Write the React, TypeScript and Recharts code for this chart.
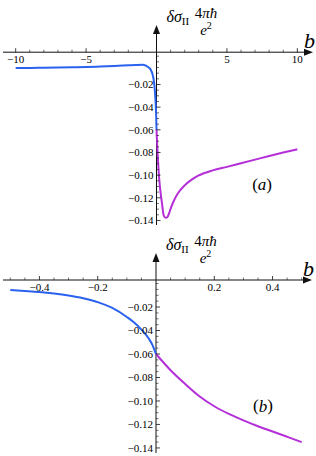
import { LineChart, Line, XAxis, YAxis, ReferenceLine, ReferenceDot } from 'recharts';

const FONT = '"Liberation Serif", "Times New Roman", serif';
const BLUE = '#2a62ef';
const PURPLE = '#b42fd8';
const AXIS = '#111';

// panel (a): b from -10 to 10
const aBlueB = [-10, -9, -8, -7, -6, -5, -4, -3, -2, -1.5, -1, -0.75, -0.5, -0.4, -0.3, -0.2, -0.15, -0.1, -0.05, -0.025, 0];
const aBlueV = [-0.0055, -0.0054, -0.0052, -0.005, -0.0048, -0.0046, -0.0042, -0.0037, -0.0031, -0.0028, -0.0026, -0.0034, -0.0055, -0.0072, -0.0102, -0.0158, -0.0208, -0.0285, -0.0392, -0.0468, -0.06];
const aPurpleB = [0, 0.05, 0.1, 0.2, 0.3, 0.4, 0.5, 0.6, 0.7, 0.8, 0.9, 1, 1.2, 1.5, 2, 2.5, 3, 4, 5, 6, 7, 8, 9, 10];
const aPurpleV = [-0.06, -0.0738, -0.0855, -0.1045, -0.1165, -0.1258, -0.135, -0.1372, -0.1375, -0.1365, -0.1335, -0.1298, -0.1235, -0.1165, -0.109, -0.104, -0.1003, -0.0958, -0.0927, -0.0895, -0.0863, -0.0831, -0.0801, -0.0772];

const aXMajor = [-10, -5, 5, 10];
const aXLabels = ['−10', '−5', '5', '10'];
const aXMinor = [-9, -8, -7, -6, -4, -3, -2, -1, 1, 2, 3, 4, 6, 7, 8, 9];
const aYMajor = [-0.02, -0.04, -0.06, -0.08, -0.1, -0.12, -0.14];
const aYLabels = ['−0.02', '−0.04', '−0.06', '−0.08', '−0.10', '−0.12', '−0.14'];
const aYMinor = [-0.135, -0.13, -0.125, -0.115, -0.11, -0.105, -0.095, -0.09, -0.085, -0.075, -0.07, -0.065, -0.055, -0.05, -0.045, -0.035, -0.03, -0.025, -0.015, -0.01, -0.005, 0, 0.005];

// panel (b): b from -0.5 to 0.5
const bBlueB = [-0.5, -0.45, -0.4, -0.35, -0.3, -0.25, -0.2, -0.15, -0.1, -0.075, -0.05, -0.025, -0.0125, 0];
const bBlueV = [-0.0055, -0.0063, -0.0072, -0.0085, -0.0102, -0.0125, -0.0158, -0.0208, -0.0285, -0.0332, -0.0392, -0.0468, -0.0522, -0.06];
const bPurpleB = [0, 0.05, 0.1, 0.15, 0.2, 0.25, 0.3, 0.35, 0.4, 0.45, 0.5];
const bPurpleV = [-0.06, -0.0738, -0.0855, -0.0962, -0.1045, -0.111, -0.1165, -0.1215, -0.126, -0.1305, -0.135];

const bXMajor = [-0.4, -0.2, 0.2, 0.4];
const bXLabels = ['−0.4', '−0.2', '0.2', '0.4'];
const bXMinor = [-0.5, -0.45, -0.35, -0.3, -0.25, -0.15, -0.1, -0.05, 0.05, 0.1, 0.15, 0.25, 0.3, 0.35, 0.45, 0.5];
const bYMajor = [-0.02, -0.04, -0.06, -0.08, -0.1, -0.12, -0.14];
const bYLabels = ['−0.02', '−0.04', '−0.06', '−0.08', '−0.10', '−0.12', '−0.14'];
const bYMinor = [-0.135, -0.13, -0.125, -0.115, -0.11, -0.105, -0.095, -0.09, -0.085, -0.075, -0.07, -0.065, -0.055, -0.05, -0.045, -0.035, -0.03, -0.025, -0.015, -0.01, -0.005, 0];

const pts = (bs: number[], vs: number[]) => bs.map((b, i) => ({ b, v: vs[i] }));

const xAxisShape = (p: any) => {
  const y = p.y1;
  const left = Math.min(p.x1, p.x2);
  const tip = Math.max(p.x1, p.x2) + 3;
  return (
    <g>
      <line x1={left} y1={y} x2={tip - 6} y2={y} stroke={AXIS} strokeWidth={1} />
      <polygon points={`${tip},${y} ${tip - 9},${y - 3.5} ${tip - 9},${y + 3.5}`} fill={AXIS} />
      <text x={tip - 9} y={y - 4} fontFamily={FONT} fontStyle="italic" fontSize={22} fill="#000">b</text>
    </g>
  );
};

const yAxisShape = (p: any) => {
  const x = p.x1;
  const top = Math.min(p.y1, p.y2);
  const bottom = Math.max(p.y1, p.y2);
  const fx = x + 49.5;
  return (
    <g>
      <line x1={x} y1={bottom} x2={x} y2={top + 6} stroke={AXIS} strokeWidth={1} />
      <polygon points={`${x},${top} ${x - 3.5},${top + 9} ${x + 3.5},${top + 9}`} fill={AXIS} />
      <text x={x + 10} y={top - 3} fontFamily={FONT} fontSize={16} fill="#000">
        <tspan fontStyle="italic">δσ</tspan>
        <tspan fontSize={11} dy={3}>II</tspan>
      </text>
      <text x={fx} y={top - 7} fontFamily={FONT} fontSize={15} textAnchor="middle" fill="#000">
        4<tspan fontStyle="italic">πħ</tspan>
      </text>
      <text x={fx} y={top + 9.5} fontFamily={FONT} fontSize={15} textAnchor="middle" fill="#000">
        <tspan fontStyle="italic">e</tspan>
        <tspan fontSize={10} dy={-6}>2</tspan>
      </text>
    </g>
  );
};

const xMajorTick = (label: string) => (p: any) => (
  <g>
    <line x1={p.cx} y1={p.cy} x2={p.cx} y2={p.cy - 4} stroke={AXIS} strokeWidth={0.8} />
    <text x={p.cx} y={p.cy + 11} fontFamily={FONT} fontSize={11} textAnchor="middle" fill="#000">{label}</text>
  </g>
);

const xMinorTick = (p: any) => (
  <line x1={p.cx} y1={p.cy} x2={p.cx} y2={p.cy - 2.5} stroke={AXIS} strokeWidth={0.6} />
);

const yMajorTick = (label: string) => (p: any) => (
  <g>
    <line x1={p.cx} y1={p.cy} x2={p.cx + 4} y2={p.cy} stroke={AXIS} strokeWidth={0.8} />
    <text x={p.cx - 3} y={p.cy + 3.8} fontFamily={FONT} fontSize={11} textAnchor="end" fill="#000">{label}</text>
  </g>
);

const yMinorTick = (p: any) => (
  <line x1={p.cx} y1={p.cy} x2={p.cx + 2.5} y2={p.cy} stroke={AXIS} strokeWidth={0.6} />
);

const panelLabel = (letter: string) => (p: any) => (
  <text x={p.cx} y={p.cy} fontFamily={FONT} fontSize={17} textAnchor="middle" dominantBaseline="central" fill="#000">
    (<tspan fontStyle="italic">{letter}</tspan>)
  </text>
);

type PanelProps = {
  height: number;
  margin: { top: number; right: number; bottom: number; left: number };
  xDomain: [number, number];
  yDomain: [number, number];
  axisAt: number;
  blue: { b: number; v: number }[];
  purple: { b: number; v: number }[];
  xMajor: number[];
  xLabels: string[];
  xMinor: number[];
  yMajor: number[];
  yLabels: string[];
  yMinor: number[];
  tag: string;
  tagAt: [number, number];
};

function Panel(props: PanelProps) {
  const { xMajor, xLabels, xMinor, yMajor, yLabels, yMinor, axisAt } = props;
  return (
    <LineChart width={316} height={props.height} margin={props.margin} style={{ display: 'block' }}>
      <XAxis type="number" dataKey="b" domain={props.xDomain} allowDataOverflow hide />
      <YAxis type="number" dataKey="v" domain={props.yDomain} allowDataOverflow hide />
      <ReferenceLine y={axisAt} shape={xAxisShape} />
      <ReferenceLine x={0} shape={yAxisShape} />
      {xMinor.map((t) => (
        <ReferenceDot key={'xm' + t} x={t} y={axisAt} shape={xMinorTick} />
      ))}
      {xMajor.map((t, i) => (
        <ReferenceDot key={'xM' + t} x={t} y={axisAt} shape={xMajorTick(xLabels[i])} />
      ))}
      {yMinor.map((t) => (
        <ReferenceDot key={'ym' + t} x={0} y={t} shape={yMinorTick} />
      ))}
      {yMajor.map((t, i) => (
        <ReferenceDot key={'yM' + t} x={0} y={t} shape={yMajorTick(yLabels[i])} />
      ))}
      <ReferenceDot x={props.tagAt[0]} y={props.tagAt[1]} shape={panelLabel(props.tag)} />
      <Line data={props.blue} dataKey="v" type="monotone" stroke={BLUE} strokeWidth={2} dot={false} isAnimationActive={false} />
      <Line data={props.purple} dataKey="v" type="monotone" stroke={PURPLE} strokeWidth={2} dot={false} isAnimationActive={false} />
    </LineChart>
  );
}

export default function App() {
  return (
    <div style={{ position: 'absolute', left: 0, top: 0, width: 316, height: 456, background: '#fff' }}>
      <Panel
        height={230}
        margin={{ top: 25, right: 6, bottom: 5, left: 3 }}
        xDomain={[-10.9, 10.9]}
        yDomain={[-0.144, 0.0325]}
        axisAt={0.0085}
        blue={pts(aBlueB, aBlueV)}
        purple={pts(aPurpleB, aPurpleV)}
        xMajor={aXMajor}
        xLabels={aXLabels}
        xMinor={aXMinor}
        yMajor={aYMajor}
        yLabels={aYLabels}
        yMinor={aYMinor}
        tag="a"
        tagAt={[7.5, -0.108]}
      />
      <Panel
        height={226}
        margin={{ top: 23, right: 7, bottom: 3, left: 3 }}
        xDomain={[-0.525, 0.525]}
        yDomain={[-0.1443, 0.026]}
        axisAt={0.003}
        blue={pts(bBlueB, bBlueV)}
        purple={pts(bPurpleB, bPurpleV)}
        xMajor={bXMajor}
        xLabels={bXLabels}
        xMinor={bXMinor}
        yMajor={bYMajor}
        yLabels={bYLabels}
        yMinor={bYMinor}
        tag="b"
        tagAt={[0.367, -0.104]}
      />
    </div>
  );
}
